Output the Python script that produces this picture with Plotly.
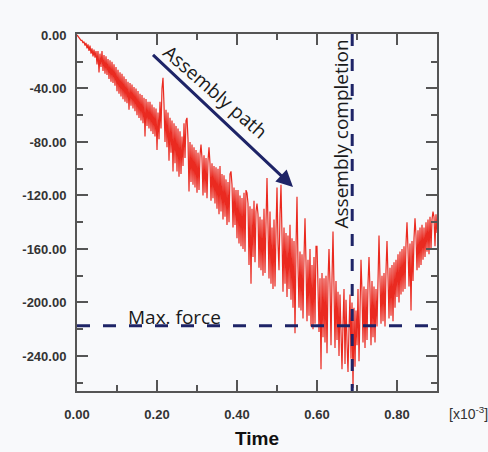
import plotly.graph_objects as go

# ---- data ----
time_ms = [round(i * 0.0025, 4) for i in range(361)]  # x axis in [x10^-3]
force = [
    0, -1, -2, -3, -4, -4, -6, -5, -8, -6, -10, -7, -12, -8, -14, -10, -16, -11, -17, -12,
    -22, -12, -28, -14, -24, -12, -27, -15, -29, -16, -30, -18, -33, -19, -35, -20, -36, -22, -38, -24,
    -42, -26, -44, -28, -46, -29, -48, -31, -50, -33, -51, -35, -56, -36, -53, -37, -55, -39, -57, -40,
    -60, -42, -62, -44, -64, -45, -66, -47, -76, -48, -68, -50, -70, -50, -72, -52, -74, -54, -76, -55,
    -86, -58, -78, -50, -70, -40, -32, -52, -80, -56, -84, -58, -94, -62, -88, -64, -102, -66, -96, -68,
    -102, -70, -106, -72, -104, -76, -98, -66, -92, -64, -62, -78, -117, -80, -110, -82, -112, -84, -114, -86,
    -118, -88, -116, -90, -82, -92, -120, -90, -118, -92, -122, -94, -84, -96, -124, -96, -122, -98, -126, -99,
    -130, -100, -134, -98, -132, -104, -138, -105, -136, -108, -142, -110, -140, -104, -102, -112, -144, -114, -142, -116,
    -152, -116, -156, -120, -158, -122, -160, -118, -162, -116, -118, -126, -172, -128, -186, -130, -166, -124, -170, -132,
    -126, -134, -174, -136, -176, -138, -180, -130, -178, -140, -107, -142, -182, -132, -186, -144, -190, -138, -188, -146,
    -114, -156, -176, -134, -112, -150, -192, -144, -186, -148, -196, -150, -190, -142, -198, -152, -204, -154, -223, -158,
    -121, -172, -204, -162, -206, -164, -212, -166, -137, -170, -214, -168, -210, -160, -218, -172, -220, -166, -216, -158,
    -158, -188, -222, -182, -250, -178, -226, -182, -230, -180, -238, -184, -160, -186, -232, -182, -147, -188, -234, -184,
    -228, -192, -240, -194, -234, -250, -216, -190, -246, -198, -230, -252, -220, -194, -242, -200, -264, -204, -248, -206,
    -232, -190, -244, -194, -168, -192, -230, -188, -234, -190, -228, -186, -166, -190, -232, -184, -226, -188, -230, -190,
    -218, -184, -150, -182, -216, -180, -214, -178, -218, -176, -154, -180, -212, -174, -210, -172, -214, -170, -204, -168,
    -196, -164, -200, -162, -194, -160, -192, -158, -190, -156, -140, -160, -188, -156, -206, -154, -184, -152, -137, -150,
    -176, -146, -174, -144, -172, -142, -168, -144, -166, -140, -162, -138, -164, -136, -160, -138, -132, -136, -158, -134, -148,
]

max_force = -217.5
completion_time = 0.688
y_ticks = [0, -40, -80, -120, -160, -200, -240]
x_ticks = [0.0, 0.2, 0.4, 0.6, 0.8]

NAVY = "#1e2467"
RED = "#ea2a20"
AX = "#555555"
TXT = "#333333"
ANN_FONT = "Open Sans"

fig = go.Figure()
fig.add_trace(go.Scatter(x=time_ms, y=force, mode="lines",
                         line=dict(color=RED, width=1.2), hoverinfo="skip",
                         showlegend=False))

# dashed reference lines
fig.add_trace(go.Scatter(x=[0, 0.9], y=[max_force, max_force], mode="lines",
                         line=dict(color=NAVY, width=3, dash="13px,13px"),
                         showlegend=False, hoverinfo="skip"))
fig.add_trace(go.Scatter(x=[completion_time, completion_time], y=[0.7, -266.2],
                         mode="lines",
                         line=dict(color=NAVY, width=3, dash="12px,13px"),
                         showlegend=False, hoverinfo="skip"))

axis_common = dict(showline=True, linewidth=2, linecolor=AX, mirror="ticks",
                   ticks="inside", ticklen=11, tickwidth=2, tickcolor=AX,
                   showgrid=False, zeroline=False,
                   tickfont=dict(family="Liberation Sans", size=13, color=TXT,
                                 weight="bold"))

fig.update_xaxes(range=[0, 0.9], tickvals=x_ticks,
                 ticktext=[f"{v:.2f}" for v in x_ticks],
                 minor=dict(ticks="inside", ticklen=6, tickwidth=2,
                            tickcolor=AX, dtick=0.1, tick0=0),
                 ticklabelstandoff=10, **axis_common)
fig.update_yaxes(range=[-266.2, 0.7], tickvals=y_ticks,
                 ticktext=[f"{v:.2f}" for v in y_ticks],
                 minor=dict(ticks="inside", ticklen=6, tickwidth=2,
                            tickcolor=AX, dtick=20, tick0=0),
                 ticklabelstandoff=6, **axis_common)

fig.add_annotation(x=0.54, y=-113.6, ax=0.185, ay=-13.5, axref="x", ayref="y",
                   xref="x", yref="y", text=" ", showarrow=True,
                   arrowhead=2, arrowsize=1.1, arrowwidth=3, arrowcolor=NAVY,
                   font=dict(size=2))
fig.add_annotation(x=0.346, y=-43, xref="x", yref="y", text="Assembly path",
                   showarrow=False, textangle=41,
                   font=dict(family=ANN_FONT, size=19, color="#1a1a1a"))
fig.add_annotation(x=0.66, y=-74.4, xref="x", yref="y",
                   text="Assembly completion", showarrow=False, textangle=-90,
                   font=dict(family=ANN_FONT, size=19, color="#1a1a1a"))
fig.add_annotation(x=0.2425, y=-210.9, xref="x", yref="y", text="Max. force",
                   showarrow=False,
                   font=dict(family=ANN_FONT, size=19, color="#1a1a1a"))
fig.add_annotation(x=(447 - 77) / 360, y=-(413 - 391) / 357, xref="paper",
                   yref="paper", xanchor="left", yanchor="middle",
                   text="[x10<sup>-3</sup>]", showarrow=False,
                   font=dict(family="Liberation Sans", size=14, color=TXT))
fig.add_annotation(x=0.5, y=-(438 - 391) / 357, xref="paper", yref="paper",
                   xanchor="center", yanchor="middle", text="<b>Time</b>",
                   showarrow=False,
                   font=dict(family="Liberation Sans", size=19, color="#111111"))

fig.update_layout(width=488, height=452,
                  margin=dict(l=77, r=51, t=34, b=61, pad=0),
                  paper_bgcolor="#f8f9fb", plot_bgcolor="#f8f9fb",
                  showlegend=False)

fig.write_html("out.html", config={"displayModeBar": False},
               post_script="document.body.style.margin='0';"
                           "document.body.style.background='#f8f9fb';")
